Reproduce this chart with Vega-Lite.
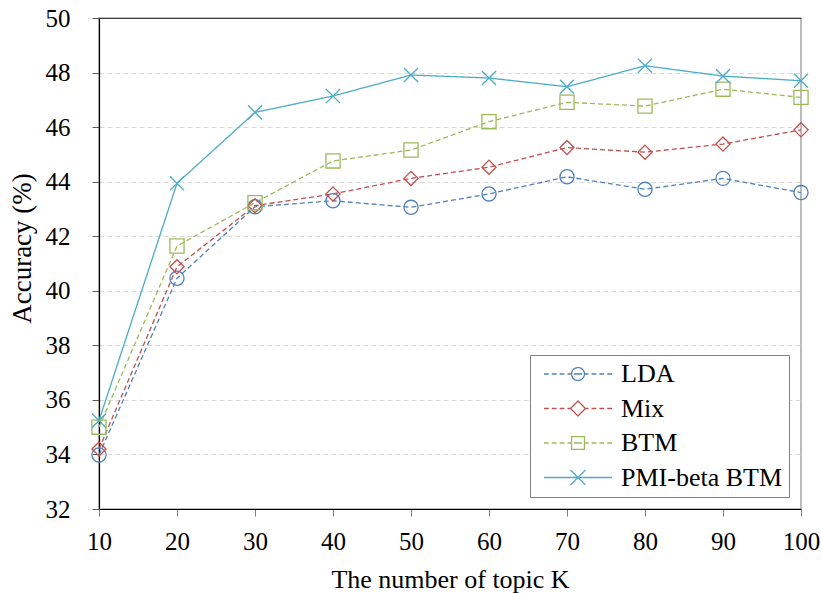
{
  "$schema": "https://vega.github.io/schema/vega-lite/v6.json",
  "width": 702,
  "height": 491,
  "autosize": "none",
  "padding": {"left": 99, "top": 18, "right": 20, "bottom": 84},
  "background": "white",
  "config": {
    "font": "Liberation Serif",
    "view": {"stroke": "#a6a6a6", "strokeWidth": 1.5},
    "legend": {
      "orient": "bottom-right",
      "offset": 12,
      "padding": 6,
      "strokeColor": "#808080",
      "fillColor": "white",
      "symbolSize": 4624,
      "symbolStrokeWidth": 1.3,
      "symbolOpacity": 1,
      "symbolOffset": 7,
      "clipHeight": 26,
      "labelFontSize": 26,
      "labelFont": "Liberation Serif",
      "labelColor": "black",
      "labelOffset": 8,
      "rowPadding": 8.5,
      "labelLimit": 300
    }
  },
  "data": {
    "values": [
      {"k": 10, "series": "LDA", "acc": 33.98},
      {"k": 20, "series": "LDA", "acc": 40.46},
      {"k": 30, "series": "LDA", "acc": 43.08},
      {"k": 40, "series": "LDA", "acc": 43.3},
      {"k": 50, "series": "LDA", "acc": 43.06},
      {"k": 60, "series": "LDA", "acc": 43.55},
      {"k": 70, "series": "LDA", "acc": 44.18},
      {"k": 80, "series": "LDA", "acc": 43.72},
      {"k": 90, "series": "LDA", "acc": 44.12},
      {"k": 100, "series": "LDA", "acc": 43.6},
      {"k": 10, "series": "Mix", "acc": 34.2},
      {"k": 20, "series": "Mix", "acc": 40.88},
      {"k": 30, "series": "Mix", "acc": 43.12},
      {"k": 40, "series": "Mix", "acc": 43.55},
      {"k": 50, "series": "Mix", "acc": 44.12},
      {"k": 60, "series": "Mix", "acc": 44.53},
      {"k": 70, "series": "Mix", "acc": 45.25},
      {"k": 80, "series": "Mix", "acc": 45.08},
      {"k": 90, "series": "Mix", "acc": 45.38},
      {"k": 100, "series": "Mix", "acc": 45.9},
      {"k": 10, "series": "BTM", "acc": 35.0},
      {"k": 20, "series": "BTM", "acc": 41.64},
      {"k": 30, "series": "BTM", "acc": 43.23},
      {"k": 40, "series": "BTM", "acc": 44.76},
      {"k": 50, "series": "BTM", "acc": 45.16},
      {"k": 60, "series": "BTM", "acc": 46.2},
      {"k": 70, "series": "BTM", "acc": 46.91},
      {"k": 80, "series": "BTM", "acc": 46.77},
      {"k": 90, "series": "BTM", "acc": 47.39},
      {"k": 100, "series": "BTM", "acc": 47.09},
      {"k": 10, "series": "PMI-beta BTM", "acc": 35.24},
      {"k": 20, "series": "PMI-beta BTM", "acc": 43.94},
      {"k": 30, "series": "PMI-beta BTM", "acc": 46.54},
      {"k": 40, "series": "PMI-beta BTM", "acc": 47.14},
      {"k": 50, "series": "PMI-beta BTM", "acc": 47.91},
      {"k": 60, "series": "PMI-beta BTM", "acc": 47.8},
      {"k": 70, "series": "PMI-beta BTM", "acc": 47.48},
      {"k": 80, "series": "PMI-beta BTM", "acc": 48.25},
      {"k": 90, "series": "PMI-beta BTM", "acc": 47.87},
      {"k": 100, "series": "PMI-beta BTM", "acc": 47.7}
    ]
  },
  "encoding": {
    "y": {
      "field": "acc",
      "type": "quantitative",
      "scale": {"domain": [32, 50], "nice": false, "zero": false},
      "axis": {
        "values": [32, 34, 36, 38, 40, 42, 44, 46, 48, 50],
        "title": "Accuracy (%)",
        "grid": true,
        "gridColor": "#d9d9d9",
        "gridDash": [5, 3],
        "gridWidth": 1,
        "domainColor": "black",
        "domainWidth": 1.2,
        "tickColor": "#595959",
        "tickSize": 7,
        "labelFontSize": 25,
        "labelColor": "black",
        "labelPadding": 22,
        "labelFlush": false,
        "labelOverlap": false,
        "titleFontSize": 27,
        "titleFontWeight": "normal",
        "titleColor": "black",
        "titleX": -76.5,
        "titleY": 230,
        "titleBaseline": "middle"
      }
    },
    "color": {
      "field": "series",
      "type": "nominal",
      "scale": {
        "domain": ["LDA", "Mix", "BTM", "PMI-beta BTM"],
        "range": ["#4F81BD", "#C0504D", "#9BBB59", "#4BACC6"]
      },
      "legend": {
        "title": null,
        "encode": {
          "symbols": {
            "update": {
              "shape": {"signal": "datum.value === 'LDA' ? 'M-1,0H-0.86M-0.77,0H-0.63M-0.54,0H-0.4M-0.31,0H-0.19M-0.12,0H0.12M0.19,0H0.31M0.4,0H0.54M0.63,0H0.77M0.86,0H1M-0.19,0A0.19,0.19 0 1,0 0.19,0A0.19,0.19 0 1,0 -0.19,0' : datum.value === 'Mix' ? 'M-1,0H-0.86M-0.77,0H-0.63M-0.54,0H-0.4M-0.31,0H-0.22M0.22,0H0.31M0.4,0H0.54M0.63,0H0.77M0.86,0H1M0,-0.22L0.22,0L0,0.22L-0.22,0Z' : datum.value === 'BTM' ? 'M-1,0H-0.86M-0.77,0H-0.63M-0.54,0H-0.4M-0.31,0H-0.19M-0.12,0H0.12M0.19,0H0.31M0.4,0H0.54M0.63,0H0.77M0.86,0H1M-0.19,-0.19H0.19V0.19H-0.19Z' : 'M-1,0H1M-0.22,-0.22L0.22,0.22M-0.22,0.22L0.22,-0.22'"},
              "fill": {"value": "transparent"},
              "strokeDash": {"value": [1, 0]}
            }
          }
        }
      }
    }
  },
  "layer": [
    {
      "mark": {"type": "line", "strokeWidth": 1.3},
      "encoding": {
        "x": {
          "field": "k",
          "type": "quantitative",
          "scale": {"domain": [10, 100], "nice": false, "zero": false},
          "axis": {
            "values": [10, 20, 30, 40, 50, 60, 70, 80, 90, 100],
            "title": "The number of topic K",
            "grid": false,
            "domainColor": "black",
            "domainWidth": 1.2,
            "tickColor": "#808080",
            "tickSize": 7,
            "labelFontSize": 25,
            "labelColor": "black",
            "labelPadding": 13,
            "labelFlush": false,
            "labelOverlap": false,
            "titleFontSize": 26,
            "titleFontWeight": "normal",
            "titleColor": "black",
            "titleY": 78,
            "titleBaseline": "alphabetic"
          }
        },
        "strokeDash": {
          "condition": {"test": "datum.series === 'PMI-beta BTM'", "value": [1, 0]},
          "value": [5, 3]
        }
      }
    },
    {
      "mark": {"type": "point", "filled": false, "size": 200, "strokeWidth": 1.3, "opacity": 1},
      "encoding": {
        "x": {
          "field": "k",
          "type": "quantitative",
          "axis": {"orient": "top", "labels": false, "ticks": false, "title": null, "grid": false, "domainColor": "#404040", "domainWidth": 1.2}
        },
        "shape": {
          "condition": [
            {"test": "datum.series === 'LDA'", "value": "circle"},
            {"test": "datum.series === 'Mix'", "value": "M0,-1L1,0L0,1L-1,0Z"},
            {"test": "datum.series === 'BTM'", "value": "square"}
          ],
          "value": "M-1,-1L1,1M-1,1L1,-1"
        }
      }
    }
  ],
  "resolve": {"axis": {"x": "independent"}}
}
